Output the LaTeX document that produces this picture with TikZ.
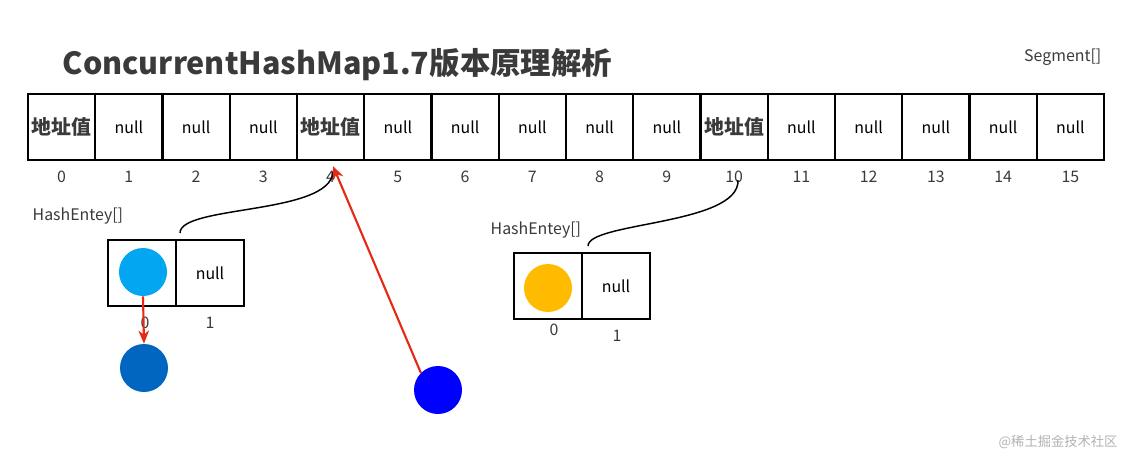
\documentclass[tikz,border=0pt]{standalone}
\usepackage{fontspec}
\setmainfont{Noto Sans CJK SC}
\usetikzlibrary{arrows.meta}
\definecolor{ttl}{HTML}{3A3A3A}
\tikzset{
 cell/.style={draw,line width=1.6pt,minimum width=67.25*0.0265cm,minimum height=66*0.0265cm,inner sep=0pt,font=\large},
 ecell/.style={draw,line width=1.6pt,minimum width=68*0.0265cm,minimum height=66*0.0265cm,inner sep=0pt,font=\large},
 addr/.style={font=\fontsize{15}{18}\selectfont\bfseries,text=ttl},
 idx/.style={font=\large,text=ttl},
 lbl/.style={font=\large,text=ttl},
 ball/.style={circle,minimum size=48*0.0265cm,inner sep=0pt},
 link/.style={line width=1.1pt},
 red/.style={draw={rgb,255:red,230;green,40;blue,20},line width=1.6pt,-{Stealth[length=10pt,width=8pt]}}
}
\begin{document}
\begin{tikzpicture}[x=0.0265cm,y=-0.0265cm]
\useasboundingbox (0,0) rectangle (1132,470);
\node[font=\bfseries\fontsize{23}{27}\selectfont,text=ttl,anchor=west] (title) at (58,65) {ConcurrentHashMap1.7版本原理解析};
\node[lbl,anchor=east] (seg) at (1106,57) {Segment[]};
\foreach \i in {0,...,15}{
  \pgfmathsetmacro\cx{28+67.25*\i+33.6}
  \ifnum\i=0 \node[cell,addr] (c\i) at (\cx,127) {地址值};
  \else\ifnum\i=4 \node[cell,addr] (c\i) at (\cx,127) {地址值};
  \else\ifnum\i=10 \node[cell,addr] (c\i) at (\cx,127) {地址值};
  \else \node[cell] (c\i) at (\cx,127) {null};\fi\fi\fi
  \node[idx] (i\i) at (\cx,177) {\i};
}
% left entry array
\node[lbl,anchor=west] (h1) at (28,216) {HashEntey[]};
\node[ecell] (l0) at (142,273) {};
\node[ecell] (l1) at (210,273) {null};
\node[ball,fill={rgb,255:red,3;green,166;blue,240}] (b1) at (143,272) {};
\node[idx] (li0) at (145,323) {0};
\node[idx] (li1) at (210,323) {1};
\node[ball,fill={rgb,255:red,0;green,102;blue,192}] (b2) at (144,368) {};
\draw[red] (b1.south) -- (b2.north);
\coordinate (lt) at (180,233);
\draw[link] (lt) .. controls (180,205) and (330,215) .. (333,172);
% right entry array
\node[lbl,anchor=west] (h2) at (486,230) {HashEntey[]};
\node[ecell] (r0) at (548,286) {};
\node[ecell] (r1) at (616,286) {null};
\node[ball,fill={rgb,255:red,255;green,187;blue,0}] (b3) at (548,288) {};
\node[idx] (ri0) at (554,330) {0};
\node[idx] (ri1) at (617,336) {1};
\coordinate (rt) at (588,246);
\draw[link] (rt) .. controls (588,222) and (740,225) .. (738,180);
% free blue ball
\node[ball,fill={rgb,255:red,0;green,0;blue,255}] (b4) at (438,390) {};
\coordinate (a4) at (333,166);
\draw[red] (b4.north west) -- (a4);
\node[font=\normalsize,text=gray!60,anchor=east] (wm) at (1122,442) {@稀土掘金技术社区};
\end{tikzpicture}
\end{document}
